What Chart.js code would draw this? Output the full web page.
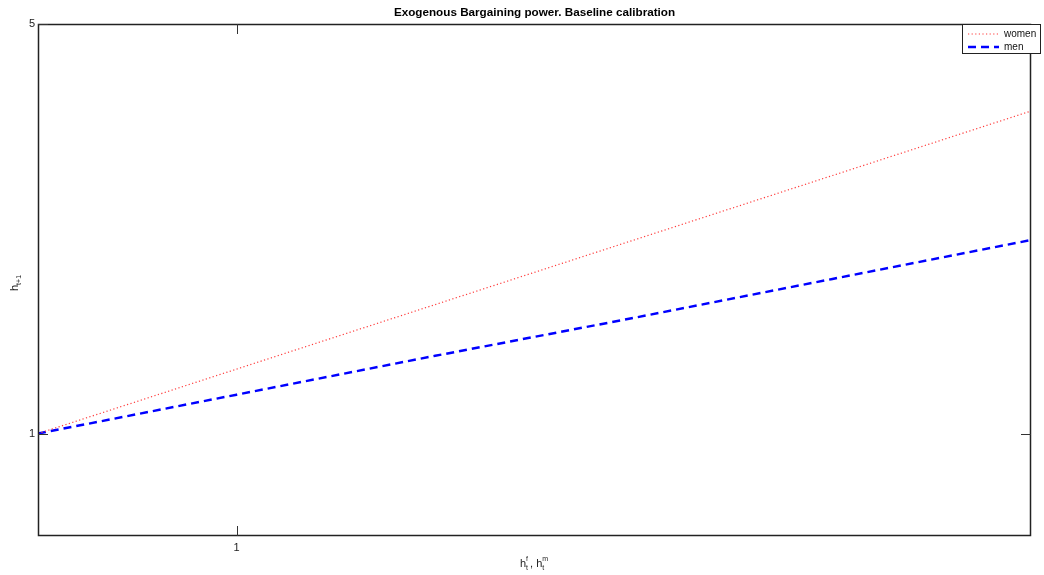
<!DOCTYPE html>
<html>
<head>
<meta charset="utf-8">
<script src="https://cdn.jsdelivr.net/npm/chart.js@4"></script>
<style>
  html, body { margin: 0; padding: 0; background: #fff; }
  #wrap { width: 1044px; height: 575px; }
</style>
</head>
<body>
<div id="wrap"><canvas id="hChart" width="1044" height="575"></canvas></div>
<script>
// values
const hToday = [0, 1, 2, 3, 4, 5];
const women = [1.00, 1.63, 2.26, 2.89, 3.52, 4.15];
const men = [1.00, 1.38, 1.76, 2.13, 2.51, 2.89];
const xTicks = [1];
const yTicks = [1, 5];
const seriesNames = ['women', 'men'];

const FONT = '"Liberation Sans", Arial, Helvetica, sans-serif';

// draws the matlab style box, inside ticks, legend and titles
const matlabAxes = {
    id: 'matlabAxes',
    afterDraw(chart) {
        const c = chart.ctx;
        const a = chart.chartArea;
        const xs = chart.scales.x, ys = chart.scales.y;
        c.save();

        // frame
        c.strokeStyle = '#222';
        c.lineWidth = 1.5;
        c.strokeRect(a.left + 0.5, a.top + 0.5, a.right - a.left - 1, a.bottom - a.top - 1);

        // tick marks pointing inwards, on both sides
        c.lineWidth = 1;
        c.strokeStyle = '#333';
        const tl = 10;
        xTicks.forEach(v => {
            const px = Math.round(xs.getPixelForValue(v)) + 0.5;
            c.beginPath();
            c.moveTo(px, a.bottom); c.lineTo(px, a.bottom - tl);
            c.moveTo(px, a.top); c.lineTo(px, a.top + tl);
            c.stroke();
        });
        yTicks.forEach(v => {
            const py = Math.round(ys.getPixelForValue(v)) + 0.5;
            c.beginPath();
            c.moveTo(a.left, py); c.lineTo(a.left + tl, py);
            c.moveTo(a.right, py); c.lineTo(a.right - tl, py);
            c.stroke();
        });

        // title
        c.fillStyle = '#000';
        c.font = 'bold 11.7px ' + FONT;
        c.textAlign = 'center';
        c.textBaseline = 'middle';
        c.fillText('Exogenous Bargaining power. Baseline calibration', (a.left + a.right) / 2, 13);

        // x axis title: h_t^f, h_t^m
        c.fillStyle = '#222';
        c.textAlign = 'left';
        c.textBaseline = 'alphabetic';
        let x = 520;
        const base = 567;
        c.font = '11px ' + FONT;
        c.fillText('h', x, base);
        let w = c.measureText('h').width;
        c.font = '7px ' + FONT;
        c.fillText('t', x + w, base + 3);
        c.fillText('f', x + w, base - 6);
        x += w + 4;
        c.font = '11px ' + FONT;
        c.fillText(', h', x, base);
        w = c.measureText(', h').width;
        c.font = '7px ' + FONT;
        c.fillText('t', x + w, base + 3);
        c.fillText('m', x + w, base - 6);

        // y axis title: h_{t+1}, rotated
        c.save();
        c.translate(18, 291);
        c.rotate(-Math.PI / 2);
        c.font = '11px ' + FONT;
        c.fillText('h', 0, 0);
        w = c.measureText('h').width;
        c.font = '7px ' + FONT;
        c.fillText('t+1', w, 3);
        c.restore();

        // legend box
        const lx = 962, ly = 24, lw = 79, lh = 30;
        c.fillStyle = '#fff';
        c.fillRect(lx, ly, lw, lh);
        c.strokeStyle = '#222';
        c.lineWidth = 1;
        c.strokeRect(lx + 0.5, ly + 0.5, lw - 1, lh - 1);
        chart.data.datasets.forEach((ds, i) => {
            const yy = ly + 10 + i * 13;
            c.beginPath();
            c.strokeStyle = ds.borderColor;
            c.lineWidth = ds.borderWidth;
            c.setLineDash(ds.borderDash);
            c.moveTo(lx + 6, yy); c.lineTo(lx + 37, yy);
            c.stroke();
            c.setLineDash([]);
            c.fillStyle = '#111';
            c.font = '10px ' + FONT;
            c.textBaseline = 'middle';
            c.fillText(ds.label, lx + 42, yy);
        });
        c.restore();
    }
};

new Chart(document.getElementById('hChart'), {
    type: 'line',
    data: {
        datasets: [{
            label: seriesNames[0],
            data: hToday.map((h, i) => ({ x: h, y: women[i] })),
            borderColor: '#ff3b3b',
            borderWidth: 1.2,
            borderDash: [1.2, 2.4],
            pointRadius: 0,
            fill: false,
            tension: 0
        }, {
            label: seriesNames[1],
            data: hToday.map((h, i) => ({ x: h, y: men[i] })),
            borderColor: '#0000ff',
            borderWidth: 2.5,
            borderDash: [8, 5],
            pointRadius: 0,
            fill: false,
            tension: 0
        }]
    },
    options: {
        responsive: false,
        animation: false,
        events: [],
        layout: { padding: { left: 0, top: 24, right: 13, bottom: 0 } },
        plugins: {
            legend: { display: false },
            title: { display: false },
            tooltip: { enabled: false }
        },
        scales: {
            x: {
                type: 'linear',
                min: 0,
                max: 5,
                grid: { display: false, drawTicks: false },
                border: { display: false },
                afterBuildTicks: axis => { axis.ticks = xTicks.map(v => ({ value: v })); },
                afterFit: scale => { scale.height = 39; },
                ticks: {
                    padding: 5,
                    maxRotation: 0,
                    color: '#222',
                    font: { family: FONT, size: 11 },
                    callback: v => String(v)
                }
            },
            y: {
                type: 'linear',
                min: 0,
                max: 5,
                grid: { display: false, drawTicks: false },
                border: { display: false },
                afterBuildTicks: axis => { axis.ticks = yTicks.map(v => ({ value: v })); },
                afterFit: scale => { scale.width = 38; },
                ticks: {
                    padding: 3,
                    color: '#222',
                    font: { family: FONT, size: 11 },
                    callback: v => String(v)
                }
            }
        }
    },
    plugins: [matlabAxes]
});
</script>
</body>
</html>
